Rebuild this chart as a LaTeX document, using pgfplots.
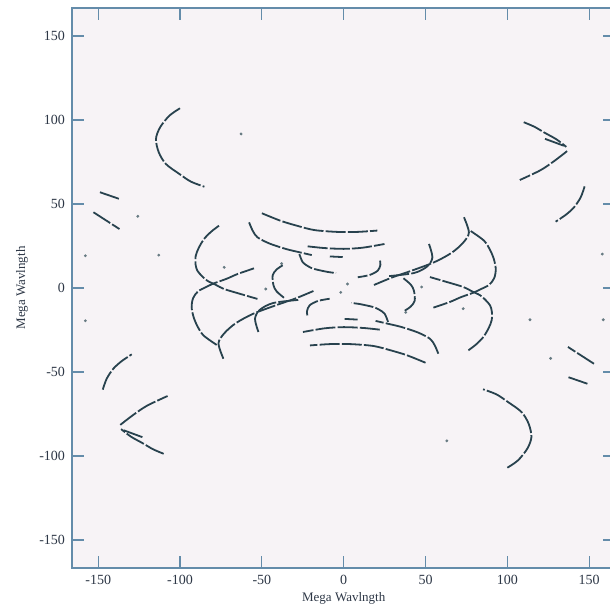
\documentclass[border=0pt]{standalone}
\usepackage{pgfplots}
\pgfplotsset{compat=1.18}
\usepackage{fontspec}
\setmainfont{Liberation Serif}
\definecolor{trk}{RGB}{40,66,78}
\definecolor{axcol}{RGB}{100,140,170}
\definecolor{labcol}{RGB}{45,55,70}
\definecolor{bgcol}{RGB}{247,243,246}
\begin{document}
\begin{tikzpicture}
\begin{axis}[
  scale only axis, width=271.7pt, height=280pt,
  xmin=-166, xmax=166, ymin=-166.7, ymax=166.7,
  xtick={-150,-100,...,150}, ytick={-150,-100,...,150},
  tick align=inside, major tick length=6pt,
  axis line style={color=axcol, line width=0.6pt},
  every tick/.style={color=axcol, line width=0.6pt},
  ticklabel style={font=\fontsize{7}{8}\selectfont, text=labcol},
  /pgf/number format/assume math mode=true,
  xlabel={Mega Wavlngth}, ylabel={Mega Wavlngth},
  label style={font=\fontsize{6.5}{8}\selectfont, text=labcol},
  xlabel style={at={(axis description cs:0.5,-0.054)}, anchor=center},
  ylabel style={at={(axis description cs:-0.092,0.5)}, anchor=center},
  axis background/.style={fill=bgcol},
  trk/.style={color=trk, line width=0.9pt, smooth, tension=0.5, no markers,
    dash pattern=on 10pt off 1.1pt},
  dot/.style={only marks, mark=*, mark size=0.5pt, color=trk!70},
]
% outer tracks
\addplot[trk] coordinates {(-100,107) (-106.5,102.6) (-112.2,95.6) (-114.7,88.7) (-113,80.8) (-108.6,73.8) (-100.4,67.9) (-93.3,63.3) (-85.1,60.3)};
\addplot[trk] coordinates {(100,-107) (106.5,-102.6) (112.2,-95.6) (114.7,-88.7) (113,-80.8) (108.6,-73.8) (100.4,-67.9) (93.3,-63.3) (85.1,-60.3)};
\addplot[trk] coordinates {(110,98.7) (116.5,96) (123,92.3) (130,88.5) (136,84)};
\addplot[trk] coordinates {(-110,-98.7) (-116.5,-96) (-123,-92.3) (-130,-88.5) (-136,-84)};
\addplot[trk] coordinates {(136.5,81.5) (128.5,75.5) (120,70) (107.6,64.3)};
\addplot[trk] coordinates {(-136.5,-81.5) (-128.5,-75.5) (-120,-70) (-107.6,-64.3)};
\addplot[trk] coordinates {(123,88.8) (135,84.5)};
\addplot[trk] coordinates {(-123,-88.8) (-135,-84.5)};
\addplot[trk] coordinates {(147.2,60.5) (144.8,54) (140.7,48) (135.6,43.5) (129.5,39.5)};
\addplot[trk] coordinates {(-147.2,-60.5) (-144.8,-54) (-140.7,-48) (-135.6,-43.5) (-129.5,-39.5)};
\addplot[trk] coordinates {(-148.9,57) (-137,53)};
\addplot[trk] coordinates {(148.9,-57) (137,-53)};
\addplot[trk] coordinates {(-152.9,45.1) (-137,35.1)};
\addplot[trk] coordinates {(152.9,-45.1) (137,-35.1)};
% inner tracks
\addplot[trk] coordinates {(-50,44.5) (-38.5,40) (-28.3,37) (-18,34.5) (-4,33.4) (8.4,33.4) (20.6,34.2)};
\addplot[trk] coordinates {(50,-44.5) (38.5,-40) (28.3,-37) (18,-34.5) (4,-33.4) (-8.4,-33.4) (-20.6,-34.2)};
\addplot[trk] coordinates {(-57.8,39.1) (-55.6,34.1) (-52.7,30.2) (-45.4,26.5) (-35.2,23.2) (-27.1,21.3) (-19.5,19.6)};
\addplot[trk] coordinates {(57.8,-39.1) (55.6,-34.1) (52.7,-30.2) (45.4,-26.5) (35.2,-23.2) (27.1,-21.3) (19.5,-19.6)};
\addplot[trk] coordinates {(-22,24.8) (-12,23.8) (0,23.3) (11.6,24) (24.9,26.2)};
\addplot[trk] coordinates {(22,-24.8) (12,-23.8) (0,-23.3) (-11.6,-24) (-24.9,-26.2)};
\addplot[trk] coordinates {(-8.5,18.8) (-0.6,18.4)};
\addplot[trk] coordinates {(8.5,-18.8) (0.6,-18.4)};
\addplot[trk] coordinates {(-27.1,20.2) (-25,15.3) (-21.5,12.8) (-17.9,11.3) (-10,9.6) (-4.7,8.9)};
\addplot[trk] coordinates {(27.1,-20.2) (25,-15.3) (21.5,-12.8) (17.9,-11.3) (10,-9.6) (4.7,-8.9)};
\addplot[trk] coordinates {(22.2,16.3) (22.4,13.7) (20.8,10.3) (15.7,7.7) (8.6,6.4)};
\addplot[trk] coordinates {(-22.2,-16.3) (-22.4,-13.7) (-20.8,-10.3) (-15.7,-7.7) (-8.6,-6.4)};
\addplot[trk] coordinates {(-76.2,37.1) (-81,33.5) (-85.3,29.2) (-88.5,24) (-90.4,19.2) (-90.5,14) (-89.4,10.3) (-86.5,7) (-83.3,4.3) (-78,1.8) (-73.1,-0.6) (-62.9,-3.6) (-52.7,-6.5)};
\addplot[trk] coordinates {(76.2,-37.1) (81,-33.5) (85.3,-29.2) (88.5,-24) (90.4,-19.2) (90.5,-14) (89.4,-10.3) (86.5,-7) (83.3,-4.3) (78,-1.8) (73.1,0.6) (62.9,3.6) (52.7,6.5)};
\addplot[trk] coordinates {(77.6,33.9) (85.7,28.2) (89.5,22.5) (91.8,17) (92.9,11.3) (92,6) (89,2) (84,-0.6) (79.2,-2.8) (71.5,-5.5) (64.9,-8.3) (54.8,-11.7)};
\addplot[trk] coordinates {(-77.6,-33.9) (-85.7,-28.2) (-89.5,-22.5) (-91.8,-17) (-92.9,-11.3) (-92,-6) (-89,-2) (-84,0.6) (-79.2,2.8) (-71.5,5.5) (-64.9,8.3) (-54.8,11.7)};
\addplot[trk] coordinates {(73.5,42.1) (76.5,33) (73,27) (66,21) (55.2,15.3) (40,9.8) (29.9,6.4) (18.5,1.8)};
\addplot[trk] coordinates {(-73.5,-42.1) (-76.5,-33) (-73,-27) (-66,-21) (-55.2,-15.3) (-40,-9.8) (-29.9,-6.4) (-18.5,-1.8)};
\addplot[trk] coordinates {(52.1,26.2) (54.2,18.3) (51.1,12.9) (42.9,8.9) (26.7,7.0)};
\addplot[trk] coordinates {(-52.1,-26.2) (-54.2,-18.3) (-51.1,-12.9) (-42.9,-8.9) (-26.7,-7.0)};
\addplot[trk] coordinates {(36.5,5.8) (41,2) (42.9,-1.6) (43.4,-7.5) (41,-11) (37.3,-13.5)};
\addplot[trk] coordinates {(-36.5,-5.8) (-41,-2) (-42.9,1.6) (-43.4,7.5) (-41,11) (-37.3,13.5)};
% isolated samples
\addplot[dot] coordinates {(2.3,2.4) (-1.8,-2.6) (-73,12.3) (73,-12.3) (-47.6,-0.6) (47.6,0.6) (37.9,-14.5) (-37.9,14.5) (-62.7,91.7) (63,-91) (-125.8,42.7) (126.4,-41.9) (-157.8,19.2) (158.6,-18.9) (-113,19.6) (113.8,-18.9) (-157.8,-19.5) (158,20.2)};
\end{axis}
% page frame: the right edge of the box falls just outside it
\pgfresetboundingbox
\path ([xshift=-36pt,yshift=-21pt]current axis.south west) rectangle ([xshift=-2.9pt,yshift=4pt]current axis.north east);
\end{tikzpicture}
\end{document}
